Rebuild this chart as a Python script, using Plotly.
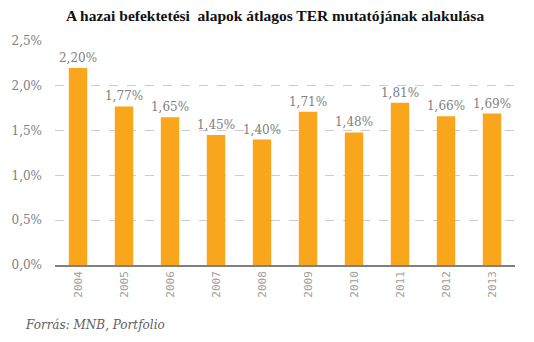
import plotly.graph_objects as go

years = ["2004", "2005", "2006", "2007", "2008", "2009", "2010", "2011", "2012", "2013"]
ter = [2.20, 1.77, 1.65, 1.45, 1.40, 1.71, 1.48, 1.81, 1.66, 1.69]
ter_labels = ["2,20%", "1,77%", "1,65%", "1,45%", "1,40%", "1,71%", "1,48%", "1,81%", "1,66%", "1,69%"]
y_ticks = [0, 0.5, 1.0, 1.5, 2.0, 2.5]
y_tick_labels = ["0,0%", "0,5%", "1,0%", "1,5%", "2,0%", "2,5%"]

SERIF = "DejaVu Serif"

fig = go.Figure(go.Bar(
    x=years, y=ter, text=ter_labels, textposition="outside",
    constraintext="none",
    textfont=dict(family=SERIF, size=12, color="#808080"),
    marker=dict(color="#F9A61C", line=dict(width=0)),
    cliponaxis=False,
))

fig.update_layout(
    width=534, height=342,
    margin=dict(l=55, r=19, t=41, b=77),
    paper_bgcolor="white", plot_bgcolor="white",
    bargap=0.6,
    showlegend=False,
    title=dict(text="<b>A hazai befektetési  alapok átlagos TER mutatójának alakulása</b>",
               x=0.515, xanchor="center", y=0.955, yanchor="middle",
               font=dict(family="Liberation Serif", size=15.5, color="#111111")),
    xaxis=dict(type="category", tickangle=-90, showgrid=False, ticks="",
               showline=True, linecolor="#808080", linewidth=1.5,
               tickfont=dict(family="DejaVu Sans Mono", size=11, color="#a0a0a0")),
    yaxis=dict(range=[0, 2.5], tickvals=y_ticks, ticktext=y_tick_labels,
               showgrid=True, gridcolor="#cccccc", griddash="dash", gridwidth=1,
               zeroline=False, ticks="", ticklabelstandoff=12,
               tickfont=dict(family=SERIF, size=12, color="#808080")),
    annotations=[dict(text="<i>Forrás: MNB, Portfolio</i>", xref="paper", yref="paper",
                      x=-0.07, y=-0.27, xanchor="left", yanchor="middle", showarrow=False,
                      font=dict(family=SERIF, size=12, color="#606060"))],
)

fig.write_html("out.html")
